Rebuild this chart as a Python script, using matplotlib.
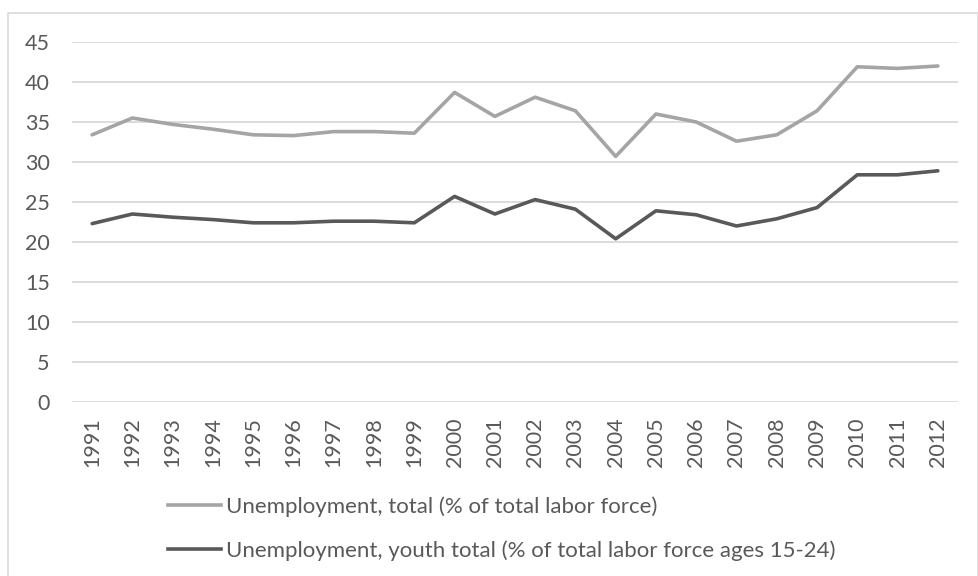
import matplotlib.pyplot as plt
from matplotlib.lines import Line2D

# Unemployment rates, 1991-2012
years = [str(y) for y in range(1991, 2013)]
total = [33.4, 35.5, 34.7, 34.1, 33.4, 33.3, 33.8, 33.8, 33.6, 38.7, 35.7,
         38.1, 36.4, 30.7, 36.0, 35.0, 32.6, 33.4, 36.4, 41.9, 41.7, 42.0]
youth = [22.3, 23.5, 23.1, 22.8, 22.4, 22.4, 22.6, 22.6, 22.4, 25.7, 23.5,
         25.3, 24.1, 20.4, 23.9, 23.4, 22.0, 22.9, 24.3, 28.4, 28.4, 28.9]
yticks = list(range(0, 50, 5))

label_total = "Unemployment, total (% of total labor force)"
label_youth = "Unemployment, youth total (% of total labor force ages 15-24)"

text_color = "#595959"
grid_color = "#D9D9D9"
plt.rcParams["font.family"] = ["Lato", "DejaVu Sans"]

W, H = 979, 576
fig = plt.figure(figsize=(W / 100, H / 100), dpi=100)
ax = fig.add_axes([72 / W, 1 - 402 / H, (958 - 72) / W, (402 - 42) / H])

x = range(len(years))
ax.plot(x, total, color="#A5A5A5", lw=2.6, solid_joinstyle="round", solid_capstyle="round")
ax.plot(x, youth, color="#595959", lw=2.6, solid_joinstyle="round", solid_capstyle="round")

ax.set_xlim(-0.5, len(years) - 0.5)
ax.set_ylim(0, 45)
ax.set_yticks(yticks)
ax.set_xticks(list(x))
ax.set_xticklabels(years, rotation=90)
ax.tick_params(length=0, colors=text_color, labelsize=15.5)
ax.tick_params(axis="y", pad=16)
ax.tick_params(axis="x", pad=11)
ax.grid(axis="y", color=grid_color, lw=1.3)
ax.set_axisbelow(True)
for s in ax.spines.values():
    s.set_visible(False)

handles = [Line2D([], [], color="#A5A5A5", lw=2.6),
           Line2D([], [], color="#595959", lw=2.6)]
fig.legend(handles, [label_total, label_youth], loc="upper left",
           bbox_to_anchor=(148 / W, 1 - 476 / H), frameon=False,
           fontsize=16, labelcolor=text_color, handlelength=2.4,
           handletextpad=0.2, labelspacing=1.05)

# chart border
fig.add_artist(Line2D([8 / W, 8 / W, 978 / W, 978 / W],
                      [0, 1 - 13 / H, 1 - 13 / H, 0],
                      color=grid_color, lw=1.2, transform=fig.transFigure))

fig.savefig("out.png", dpi=100)
